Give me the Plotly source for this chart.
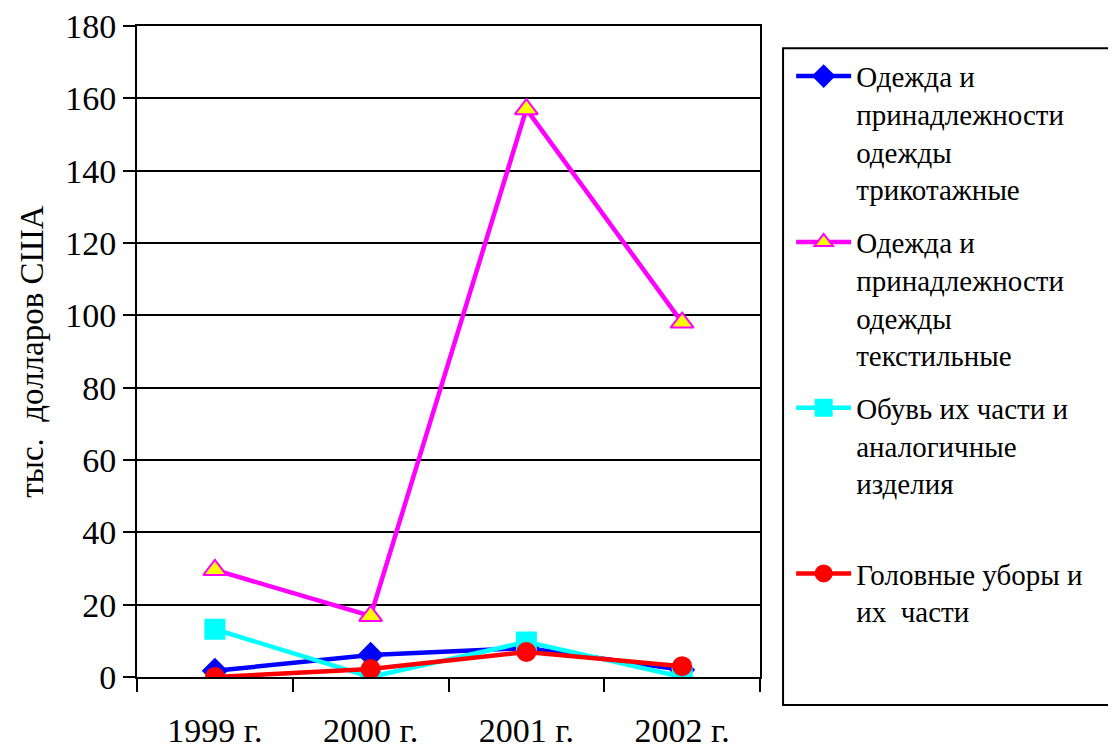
import plotly.graph_objects as go

# Years on the category axis
years = ["1999 г.", "2000 г.", "2001 г.", "2002 г."]

# Values, thousand USD
knitted = [1.7, 6.1, 8.0, 2.0]
textile = [29.6, 16.9, 157.0, 98.0]
footwear = [13.2, 0.0, 9.7, 0.0]
headwear = [0.0, 2.2, 6.9, 3.0]

names = [
    "Одежда и<br>принадлежности<br>одежды<br>трикотажные",
    "Одежда и<br>принадлежности<br>одежды<br>текстильные",
    "Обувь их части и<br>аналогичные<br>изделия<br> ",
    "Головные уборы и<br>их  части",
]

FONT = "Times New Roman, DejaVu Serif, serif"

fig = go.Figure()

# Line colour, marker symbol, marker fill, marker outline, marker size
styles = [
    ("#0000FF", "diamond", "#0000FF", "#0000FF", 18),
    ("#FF00FF", "triangle-up", "#FFFF00", "#FF00FF", 20),
    ("#00FFFF", "square", "#00FFFF", "#00FFFF", 19),
    ("#FF0000", "circle", "#FF0000", "#FF0000", 18),
]

for vals, name, (col, sym, fill, edge, size) in zip(
        [knitted, textile, footwear, headwear], names, styles):
    fig.add_trace(go.Scatter(
        x=years, y=vals, name=name, mode="lines+markers",
        line=dict(color=col, width=4.5),
        marker=dict(symbol=sym, color=fill, size=size,
                    line=dict(color=edge, width=2)),
        legendgroup=name,
    ))

# page has an 8px body margin, so margins are shifted by 8px
fig.update_layout(
    width=1108, height=741,
    margin=dict(l=129, r=356, t=18, b=72, autoexpand=False),
    paper_bgcolor="white", plot_bgcolor="white",
    font=dict(family=FONT, size=34, color="black"),
    showlegend=True,
    legend=dict(
        x=1.05, y=0.962, xanchor="left", yanchor="top",
        font=dict(family=FONT, size=29, color="black"),
        valign="top", tracegroupgap=12, traceorder="grouped",
        bgcolor="rgba(0,0,0,0)", borderwidth=0,
        itemwidth=55,
    ),
    # legend frame drawn separately so it can extend below the last entry
    shapes=[dict(type="rect", xref="paper", yref="paper",
                 x0=1.037, x1=1.565, y0=-0.043, y1=0.966,
                 line=dict(color="black", width=2))],
)

fig.update_xaxes(
    type="category", range=[-0.5, 3.5], automargin=False,
    showline=True, linecolor="black", linewidth=2, mirror=True,
    ticks="outside", tickson="boundaries", ticklen=13, tickwidth=2,
    tickcolor="black", showgrid=False, ticklabelstandoff=22,
    tickfont=dict(family=FONT, size=34),
)
fig.update_yaxes(
    range=[0, 180], dtick=20, automargin=False, ticklabeloverflow="allow",
    showline=True, linecolor="black", linewidth=2, mirror=True,
    ticks="outside", ticklen=12, tickwidth=2, tickcolor="black",
    showgrid=True, gridcolor="black", gridwidth=2, zeroline=False,
    tickfont=dict(family=FONT, size=34),
    title=dict(text="тыс.  долларов США",
               font=dict(family=FONT, size=33),
               standoff=12),
)

fig.write_html("out.html")
